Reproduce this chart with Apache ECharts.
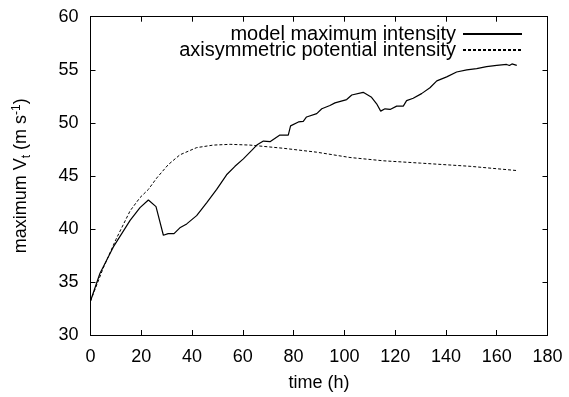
<!DOCTYPE html>
<html>
<head>
<meta charset="utf-8">
<script src="https://cdn.jsdelivr.net/npm/echarts@6/dist/echarts.min.js"></script>
<style>
html,body{margin:0;padding:0;background:#fff;}
#c{width:569px;height:397px;}
</style>
</head>
<body>
<div id="c"></div>
<script>
const modelTime = [0, 3.7, 9.0, 15.6, 19.5, 22.8, 25.8, 28.7, 30.6, 32.9, 35.2, 37.9, 41.8, 45.8, 49.7, 53.6, 56.9, 60.2, 63.5, 65.5, 68.1, 70.7, 74.6, 77.9, 78.8, 81.9, 83.8, 85.1, 89.1, 91.1, 94.3, 96.3, 100.9, 102.9, 107.4, 110.7, 112.7, 114.3, 116, 118, 120.6, 123.2, 124.5, 127.1, 130.4, 133.7, 136.4, 140.3, 144.2, 148.2, 152.1, 156, 160, 163.9, 165, 166, 167.9];
const modelMax = [33.2, 35.8, 38.3, 40.8, 42.0, 42.73, 42.1, 39.4, 39.55, 39.55, 40.1, 40.47, 41.25, 42.48, 43.72, 45.1, 45.9, 46.6, 47.4, 47.9, 48.28, 48.22, 48.84, 48.84, 49.71, 50.08, 50.14, 50.55, 50.86, 51.32, 51.63, 51.88, 52.19, 52.62, 52.87, 52.4, 51.79, 51.1, 51.32, 51.26, 51.57, 51.57, 52.09, 52.31, 52.75, 53.3, 53.95, 54.33, 54.79, 54.98, 55.1, 55.29, 55.41, 55.5, 55.4, 55.55, 55.41];
const piTime = [0, 5, 10, 15.6, 19.5, 22.8, 26.1, 30.6, 35.2, 41.8, 48.4, 55, 62.8, 75.9, 89.1, 102.2, 115.3, 130, 149.5, 167.9];
const potInt = [33.2, 36.3, 39.0, 41.7, 42.95, 43.72, 44.8, 46.05, 46.98, 47.66, 47.9, 47.97, 47.9, 47.6, 47.23, 46.73, 46.42, 46.2, 45.9, 45.5];
const seriesNames = ['model maximum intensity', 'axisymmetric potential intensity'];
const xTicks = {min: 0, max: 180, interval: 20};
const yTicks = {min: 30, max: 60, interval: 5};

const FONT = 'Liberation Sans, Arial, Helvetica, sans-serif';
const TXT = '#000';
const chart = echarts.init(document.getElementById('c'), null, {renderer: 'canvas'});

const axisBase = {
  axisLine: {show: true, onZero: false, lineStyle: {color: '#000', width: 1}},
  axisTick: {show: true, inside: true, length: 5, lineStyle: {color: '#000', width: 1}},
  splitLine: {show: false}
};

chart.setOption({
  backgroundColor: '#fff',
  animation: false,
  grid: {left: 90.5, right: 21.5, top: 16.7, bottom: 57.7, containLabel: false},
  legend: {
    orient: 'vertical',
    right: 46,
    top: 24,
    align: 'right',
    padding: 0,
    itemGap: -4,
    itemWidth: 59,
    itemHeight: 16,
    itemStyle: {opacity: 0},
    textStyle: {fontFamily: FONT, fontSize: 20, color: TXT, lineHeight: 16, padding: [0, 2, 0, 0]},
    data: [seriesNames[0], seriesNames[1]]
  },
  xAxis: [
    Object.assign({}, axisBase, {
      type: 'value', position: 'bottom',
      min: xTicks.min, max: xTicks.max, interval: xTicks.interval,
      axisLabel: {fontFamily: FONT, fontSize: 18, color: TXT, margin: 13},
      name: 'time (h)', nameLocation: 'middle', nameGap: 39,
      nameTextStyle: {fontFamily: FONT, fontSize: 18, color: TXT}
    }),
    Object.assign({}, axisBase, {
      type: 'value', position: 'top',
      min: xTicks.min, max: xTicks.max, interval: xTicks.interval,
      axisLabel: {show: false}
    })
  ],
  yAxis: [
    Object.assign({}, axisBase, {
      type: 'value', position: 'left',
      min: yTicks.min, max: yTicks.max, interval: yTicks.interval,
      axisLabel: {fontFamily: FONT, fontSize: 18, color: TXT, margin: 12},
      name: '{n|maximum V}{sub|t}{n| (m s}{sup|-1}{n|)}',
      nameLocation: 'middle', nameGap: 58,
      nameTextStyle: {
        fontFamily: FONT, fontSize: 18, color: TXT,
        rich: {
          n: {fontFamily: FONT, fontSize: 18, color: TXT, lineHeight: 22, verticalAlign: 'middle'},
          sub: {fontFamily: FONT, fontSize: 12, color: TXT, lineHeight: 12, verticalAlign: 'bottom'},
          sup: {fontFamily: FONT, fontSize: 12, color: TXT, lineHeight: 12, verticalAlign: 'top'}
        }
      }
    }),
    Object.assign({}, axisBase, {
      type: 'value', position: 'right',
      min: yTicks.min, max: yTicks.max, interval: yTicks.interval,
      axisLabel: {show: false}
    })
  ],
  series: [
    {
      name: seriesNames[0], type: 'line', xAxisIndex: 0, yAxisIndex: 0,
      showSymbol: false, symbol: 'none', smooth: false,
      lineStyle: {color: '#000', width: 1.2, type: 'solid'},
      itemStyle: {color: '#000'},
      data: modelTime.map((t, i) => [t, modelMax[i]])
    },
    {
      name: seriesNames[1], type: 'line', xAxisIndex: 0, yAxisIndex: 0,
      showSymbol: false, symbol: 'none', smooth: false,
      lineStyle: {color: '#000', width: 1, type: [3, 2]},
      itemStyle: {color: '#000'},
      data: piTime.map((t, i) => [t, potInt[i]])
    }
  ]
});
</script>
</body>
</html>
